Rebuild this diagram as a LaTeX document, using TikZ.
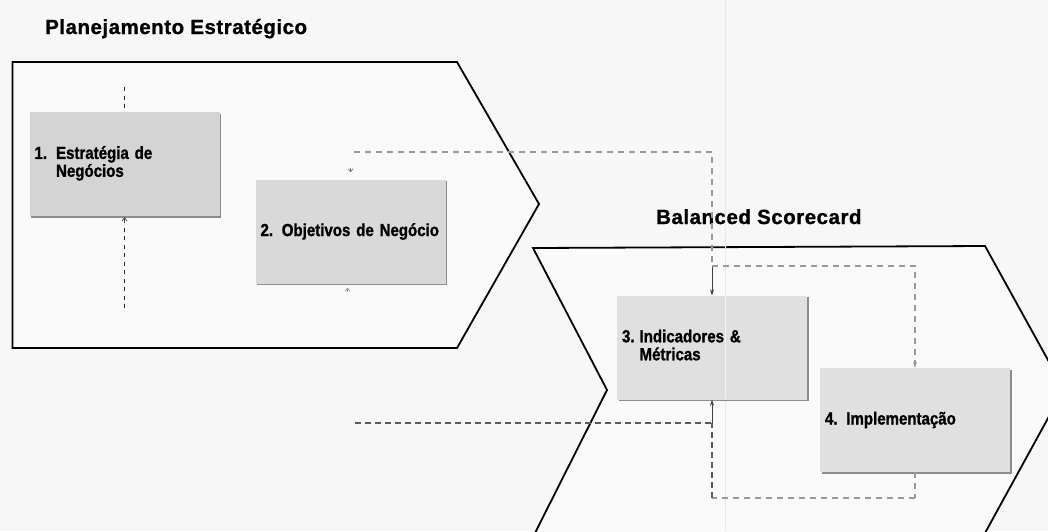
\documentclass[tikz,border=0pt]{standalone}
\usepackage{fontspec}
\setmainfont{Liberation Sans}
\newfontfamily\boxfont{Liberation Sans}[FakeStretch=0.86,FakeBold=1.2,WordSpace=0.8]
\newfontfamily\headfont{Liberation Sans}[FakeBold=1,LetterSpace=2.5]
\usetikzlibrary{arrows.meta,shadows}
\begin{document}
\begin{tikzpicture}[x=1pt,y=-1pt,
  chevron/.style={line width=1.8pt,line join=miter,draw=black},
  stepbox/.style={rectangle,minimum height=104pt,text width=180pt,inner xsep=5pt,
    align=left,font=\boxfont\bfseries\fontsize{17.5}{17}\selectfont,
    drop shadow={shadow xshift=1.6pt,shadow yshift=-1.6pt,fill=black!45,opacity=1}},
  heading/.style={anchor=base west,inner sep=0pt,
    font=\headfont\bfseries\fontsize{20.5}{24}\selectfont},
  darkdash/.style={draw=black!85,line width=1.9pt,dash pattern=on 4pt off 4.5pt},
  lightdash/.style={draw=black!40,line width=1.2pt,dash pattern=on 6pt off 5pt},
  middash/.style={draw=black!65,line width=1.4pt,dash pattern=on 6pt off 4pt},
  tip/.style={-{Stealth[length=6pt,width=4pt]}},
  smalltip/.style={-{Straight Barb[length=3pt,width=5pt]}}
]
% canvas
\fill[black!3] (0,0) rectangle (1048,531);
\useasboundingbox (0,0) rectangle (1048,531);
\clip (0,0) rectangle (1048,531);

% headings
\node[heading] (t1) at (45,34) {Planejamento Estratégico};
\node[heading] (t2) at (656,224) {Balanced Scorecard};

% chevrons
\draw[chevron,fill=black!2] (12.5,62) -- (457,62) -- (539,204) -- (457,348) -- (12.5,348) -- cycle;
\draw[chevron,fill=black!2] (533,248) -- (985,246) -- (1064,389) -- (985,533) -- (535,533) -- (607,390) -- cycle;

% faint vertical scan line
\draw[black!9,line width=1pt] (725,0) -- (725,531);

% free ends of the connectors
\coordinate (c1top) at (124.5,87);
\coordinate (c1bot) at (124.5,308);
\coordinate (c2h) at (354,152);
\coordinate (c3top) at (712,266);
\coordinate (c3left) at (355,423);
\coordinate (c3mid) at (712,423);
\coordinate (c4bot) at (915,498);

% boxes
\node[stepbox,fill=black!17] (b1) at (124.5,164)
  {\begin{tabular}{@{}l@{\hspace{9pt}}l@{}}1. & Estratégia de\\ & Negócios\end{tabular}};
\node[stepbox,fill=black!15] (b2) at (350.5,231.5) {2. Objetivos de Negócio};
\node[stepbox,fill=black!12] (b3) at (712,347.5)
  {\begin{tabular}{@{}l@{\hspace{5pt}}l@{}}3. & Indicadores \&\\ & Métricas\end{tabular}};
\node[stepbox,fill=black!12] (b4) at (915,420) {4. Implementação};

% scan line showing lighter across box 3
\draw[white,opacity=0.6,line width=1pt] (725,296) -- (725,399);

% connectors around box 1
\draw[darkdash] (c1top) -- (b1.north);
\draw[darkdash] (c1bot) -- (b1.south);
\draw[smalltip,draw=black!70,line width=0.8pt] ([yshift=-7pt]b1.south) -- ([yshift=-1pt]b1.south);

% small marks at box 2
\draw[smalltip,draw=black!55,line width=0.7pt] ([yshift=11pt]b2.north) -- ([yshift=7pt]b2.north);
\draw[smalltip,draw=black!45,line width=0.6pt] ([xshift=-3pt,yshift=-8pt]b2.south) -- ([xshift=-3pt,yshift=-4pt]b2.south);

% links into box 3
\draw[lightdash] (c2h) -| (c3top);
\draw[tip,draw=black!75,line width=0.9pt] (c3top) -- (b3.north);
\draw[middash] (c3left) -- (c3mid);
\draw[tip,draw=black!75,line width=0.9pt] (c3mid) -- (b3.south);

% loop between box 3 and box 4
\draw[lightdash,tip] (c3top) -| (b4.north);
\draw[lightdash] (b4.south) -- (c4bot);
\draw[lightdash] (c4bot) -- (c4bot -| c3mid);
\draw[middash] (c4bot -| c3mid) -- (c3mid);
\end{tikzpicture}
\end{document}
